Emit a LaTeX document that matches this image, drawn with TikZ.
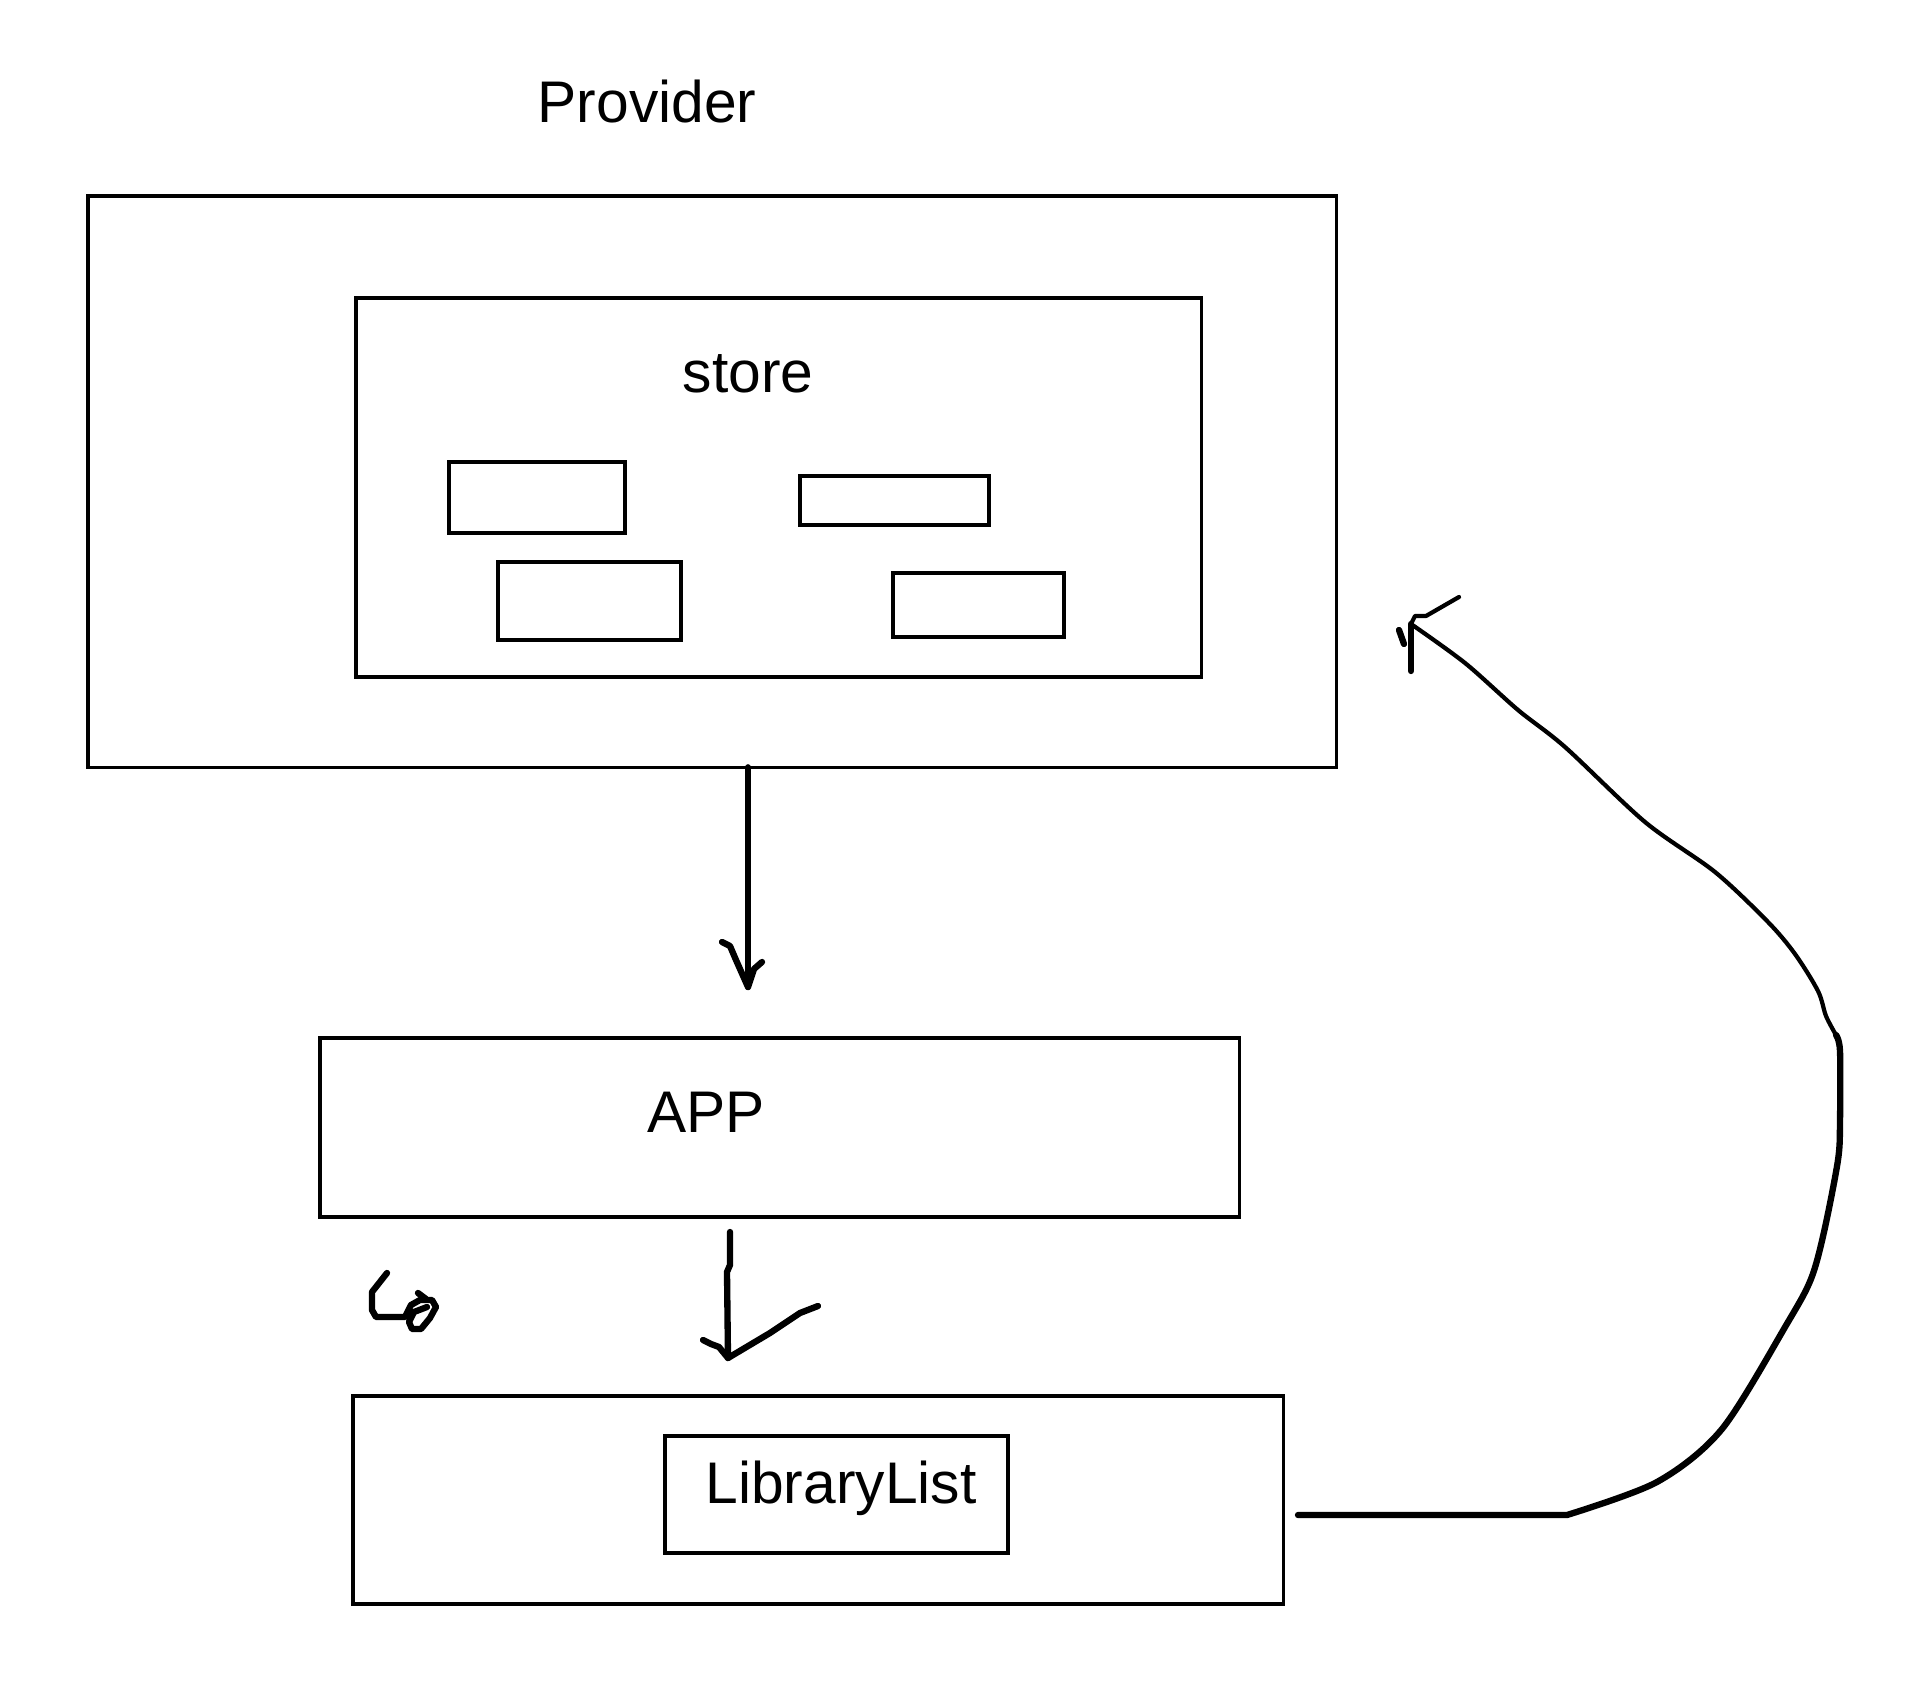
\documentclass[tikz,border=0pt]{standalone}
\usepackage{fontspec}
\setmainfont{Liberation Sans}

\begin{document}
\begin{tikzpicture}[x=0.01cm,y=-0.01cm,
    box/.style={draw,line width=1pt,inner sep=0pt,outer sep=0pt,anchor=north west},
    lbl/.style={anchor=base,font=\fontsize{16.7}{20}\selectfont},
    pen/.style={line width=1.8pt,line cap=round,line join=round},
    thinpen/.style={pen,line width=1.2pt}]
    \useasboundingbox (0,0) rectangle (1920,1682);

    % Provider with its store
    \node[box,minimum width=12.48cm,minimum height=5.71cm] (provider) at (88,196) {};
    \node[lbl] (providerlbl) at (647,123) {Provider};
    \node[box,minimum width=8.45cm,minimum height=3.79cm] (store) at (356,298) {};
    \node[lbl] (storelbl) at (748,393) {store};
    \node[box,minimum width=1.76cm,minimum height=0.71cm] (s1) at (449,462) {};
    \node[box,minimum width=1.89cm,minimum height=0.49cm] (s2) at (800,476) {};
    \node[box,minimum width=1.83cm,minimum height=0.78cm] (s3) at (498,562) {};
    \node[box,minimum width=1.71cm,minimum height=0.64cm] (s4) at (893,573) {};

    % App and LibraryList
    \node[box,minimum width=9.19cm,minimum height=1.79cm] (app) at (320,1038) {};
    \node[lbl] (applbl) at (706,1132) {APP};
    \node[box,minimum width=9.30cm,minimum height=2.08cm] (lib) at (353,1396) {};
    \node[box,minimum width=3.43cm,minimum height=1.17cm] (liblist) at (665,1436) {};
    \node[lbl] (liblistlbl) at (841,1503) {LibraryList};

    \coordinate (toapp) at (748,987);
    \coordinate (fromapp) at (730,1232);
    \coordinate (tolib) at (728,1358);
    \coordinate (fromlib) at (1298,1515);
    \coordinate (toprov) at (1411,624);

    % provider -> app
    \draw[pen] (provider.south -| toapp) -- (toapp);
    \draw[pen] ([shift={(-26,-45)}]toapp) -- ++(8,4) -- ++(6,14) -- (toapp) -- ++(6,-18) -- ++(8,-7);

    % app -> librarylist
    \draw[pen] (fromapp) -- ++(0,33) -- ++(-3,7) -- (tolib);
    \draw[pen] ([shift={(-25,-18)}]tolib) -- ++(8,4) -- ++(8,3) -- (tolib)
        -- (770,1333) -- (800,1313) -- (818,1306);

    % scribble
    \draw[pen] (387,1273) -- (372,1292) -- (372,1310) -- (376,1317) -- (405,1317)
        -- (411,1305) -- (420,1300) -- (432,1300) -- (436,1307) -- (430,1318)
        -- (421,1329) -- (412,1329) -- (409,1322) -- (414,1312) -- (427,1307);
    \draw[pen] (418,1293) -- (426,1299);

    % librarylist -> provider
    \draw[pen] (fromlib) -- (1567,1515) plot[smooth,tension=0.5] coordinates {(1567,1515)
        (1657,1482) (1722,1429) (1788,1322) (1811,1279) (1824,1232) (1838,1160)
        (1840,1122) (1840,1051) (1836,1035)};
    \draw[thinpen] plot[smooth,tension=0.5] coordinates {(1836,1035) (1826,1016)
        (1818,991) (1795,954) (1768,922) (1715,872) (1645,822) (1565,747) (1518,710)
        (1465,663) (toprov)};
    \draw[pen] (toprov) -- ++(0,47);
    \draw[pen] (1399,630) -- (1404,644);
    \draw[thinpen] (toprov) -- (1415,616) -- (1426,616) -- (1459,597);
\end{tikzpicture}
\end{document}
